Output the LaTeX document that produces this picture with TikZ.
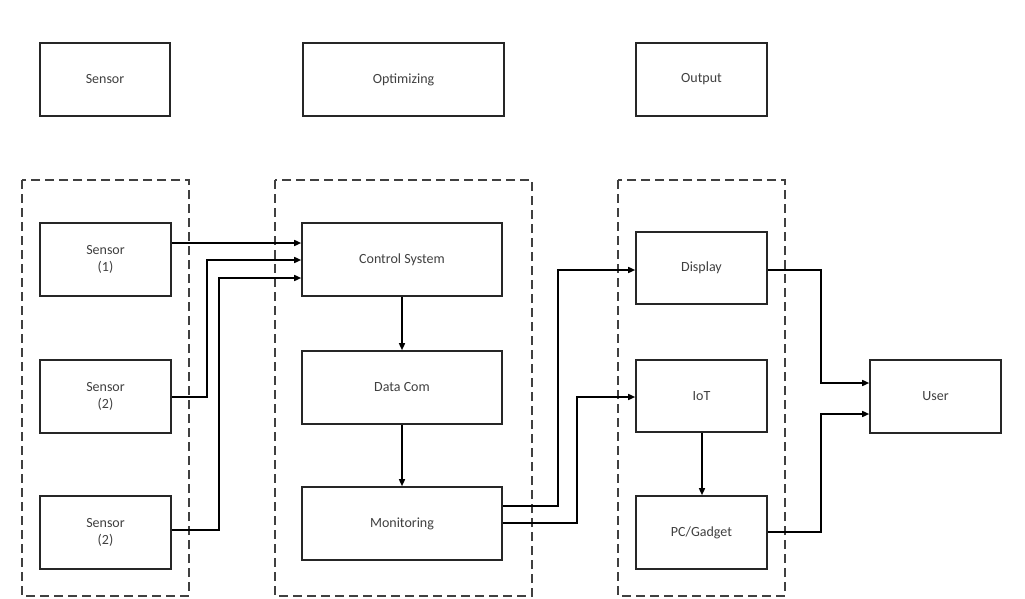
\documentclass[tikz,border=0pt]{standalone}
\usepackage{fontspec}
\setmainfont{Carlito}
\usetikzlibrary{arrows.meta}
\begin{document}
\begin{tikzpicture}[x=1pt,y=-1pt,
  blk/.style={draw=black!85,line width=1.6pt,fill=white,align=center,font=\fontsize{14}{16.5}\selectfont,text=black!75,inner sep=0pt},
  grp/.style={draw=black!75,line width=1.4pt,dash pattern=on 9pt off 5pt},
  con/.style={draw=black,line width=1.5pt,-{Triangle[length=7pt,width=6pt]}},
  lin/.style={draw=black,line width=1.5pt}]
\useasboundingbox (0,0) rectangle (1025,599);
% groups
\draw[grp] (22,180) rectangle (189,596);
\draw[grp] (275,180) rectangle (532,596);
\draw[grp] (618,180) rectangle (785,596);
% headers
\node[blk,minimum width=130pt,minimum height=73pt] (hs) at (105,79.5) {Sensor};
\node[blk,minimum width=201pt,minimum height=73pt] (ho) at (403.5,79.5) {Optimizing};
\node[blk,minimum width=131pt,minimum height=73pt] (hout) at (701.5,79.5) {Output};
% sensors
\node[blk,minimum width=131pt,minimum height=73pt] (s1) at (105.5,259.5) {Sensor\\(1)};
\node[blk,minimum width=131pt,minimum height=73pt] (s2) at (105.5,396.5) {Sensor\\(2)};
\node[blk,minimum width=131pt,minimum height=73pt] (s3) at (105.5,532.5) {Sensor\\(2)};
% optimizing
\node[blk,minimum width=200pt,minimum height=73pt] (cs) at (402,259.5) {Control System};
\node[blk,minimum width=200pt,minimum height=73pt] (dc) at (402,387.5) {Data Com};
\node[blk,minimum width=200pt,minimum height=73pt] (mo) at (402,523.5) {Monitoring};
% output
\node[blk,minimum width=131pt,minimum height=72pt] (di) at (701.5,268) {Display};
\node[blk,minimum width=131pt,minimum height=72pt] (io) at (701.5,396) {IoT};
\node[blk,minimum width=131pt,minimum height=73pt] (pc) at (701.5,532.5) {PC/Gadget};
\node[blk,minimum width=131pt,minimum height=73pt] (us) at (935.5,396.5) {User};
% coordinates
\coordinate (a1) at (s1.east |- 0,243);
\coordinate (b1) at (cs.west |- 0,243);
\coordinate (a2) at (s2.east |- 0,397);
\coordinate (b2) at (cs.west |- 0,260);
\coordinate (a3) at (s3.east |- 0,530);
\coordinate (b3) at (cs.west |- 0,278);
\coordinate (i1) at (io.south -| 702,0);
\coordinate (p1) at (pc.north -| 702,0);
% sensor connectors
\draw[con] (a1) -- (b1);
\draw[con] (a2) -- (207,397) -- (207,260) -- (b2);
\draw[con] (a3) -- (219,530) -- (219,278) -- (b3);
% vertical chain
\draw[con] (cs.south) -- (dc.north);
\draw[con] (dc.south) -- (mo.north);
\draw[con] (i1) -- (p1);
% monitoring to outputs
\coordinate (m1) at (mo.east |- 0,506);
\coordinate (m2) at (mo.east |- 0,523);
\draw[con] (m1) -- (558,506) -- (558,270) -- (di.west |- 0,270);
\draw[con] (m2) -- (577,523) -- (577,397) -- (io.west |- 0,397);
% outputs to user
\draw[con] (di.east |- 0,270) -- (821,270) -- (821,383) -- (us.west |- 0,383);
\draw[con] (pc.east |- 0,532) -- (821,532) -- (821,414) -- (us.west |- 0,414);
\end{tikzpicture}
\end{document}
